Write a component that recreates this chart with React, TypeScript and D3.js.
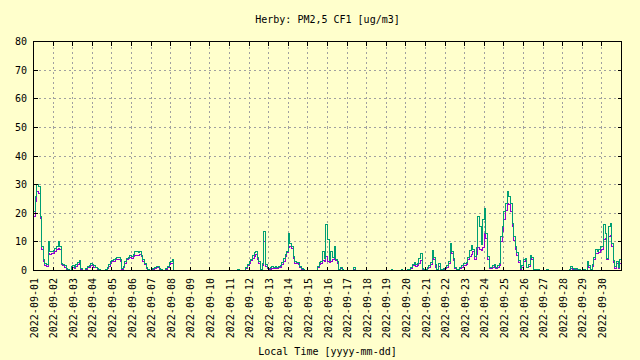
import React from 'react';
import * as d3 from 'd3';

// 2-hourly samples starting 2022-09-01 00:00, one row per day
const startTime = Date.UTC(2022, 8, 1);
const endTime = Date.UTC(2022, 9, 1);
const stepHours = 2;

const seriesA = [
  19, 24, 27.5, 27, 18, 7.5, 3, 1.6, 1.4, 6, 5.5, 5.8,
  6, 6.6, 7.2, 7.8, 7.4, 2, 1.6, 1.2, 0.5, 0.1, 0, 0.8,
  1.2, 0.8, 1.5, 2, 2.6, 0.5, 0, 0, 0.5, 1, 1.2, 1.6,
  1.6, 1.2, 0.9, 0.5, 0.3, 0, 0, 0, 0, 0.8, 1.4, 2.5,
  3, 3.3, 3.7, 4, 4, 3.2, 0.3, 1, 2.6, 3.8, 4.2, 4.6,
  4.3, 4.8, 5.4, 5.2, 5.4, 5.6, 4.8, 3.3, 2, 0.6, 0.3, 0,
  0.3, 0.5, 0.7, 1, 1, 0.5, 0, 0, 0, 0.3, 1, 2.2,
  2.6, 2.5, 0, 0, 0, 0, 0, 0, 0, 0, 0, 0,
  0, 0, 0, 0, 0, 0, 0, 0, 0, 0, 0, 0,
  0, 0, 0, 0, 0, 0, 0, 0, 0, 0, 0, 0,
  0, 0, 0, 0, 0, 0.3, 0, 0, 0, 0, 0.8, 1.7,
  2.5, 3.4, 4.3, 5, 5.6, 4, 2.6, 0.1, 1.8, 10, 1.5, 0.6,
  0.3, 0.4, 0.8, 0.6, 1, 0.6, 1, 1.2, 2.1, 3.3, 5, 6.2,
  8, 8.5, 7.6, 4.1, 2.4, 2.4, 2.1, 1, 0.3, 0.1, 0, 0,
  0, 0, 0, 0, 0, 0, 1, 2, 2.4, 3.5, 3.3, 5,
  3, 2.8, 3.3, 3.8, 4.3, 3.5, 2.5, 0.3, 0.6, 0.3, 0, 0,
  0, 0, 0, 0, 0.5, 0, 0, 0, 0, 0, 0, 0,
  0, 0, 0, 0, 0, 0, 0, 0, 0, 0, 0, 0,
  0, 0, 0, 0, 0, 0, 0, 0, 0, 0.2, 0, 0,
  0, 0, 0.3, 0.8, 1.6, 2, 1.5, 1.8, 2.6, 3.5, 0.3, 0,
  0.2, 0.7, 1.2, 2, 4.5, 3.8, 1.2, 0.2, 1.5, 0.2, 0, 0.5,
  0.6, 1.2, 2.5, 6.5, 6, 3.6, 0.6, 0.2, 0.2, 0.7, 1.2, 1.9,
  1.8, 2, 3.7, 5, 5.7, 6.5, 3.7, 5.5, 8, 7.5, 7, 8,
  13, 11.3, 4, 0.6, 0.8, 1.2, 1.4, 0.8, 1.2, 1.8, 10, 13.5,
  17.7, 21, 23.5, 23, 20.5, 15.5, 10.5, 7.2, 5.4, 2.8, 0.5, 1.2,
  3.1, 3.5, 0.9, 1.5, 4.7, 3.7, 0.3, 0, 0.3, 0.3, 0, 0,
  0, 0, 0, 0, 0, 0, 0, 0, 0, 0, 0, 0,
  0, 0, 0, 0, 0.1, 0.8, 0.5, 0.1, 0.3, 0.1, 0.3, 0,
  0.2, 0, 0, 2.5, 1.2, 0.2, 1.4, 3.7, 6, 5.8, 6.3, 7,
  7.2, 10.7, 11.3, 3.7, 11.9, 12.4, 8.4, 2.8, 0.8, 2.5, 0.8, 2.5,
  2.2,
];

const seriesB = [
  20.5, 26, 30, 29.5, 19, 8.5, 3.7, 2.5, 2, 10, 6.6, 6.6,
  6.9, 7.8, 8.5, 10, 8.4, 2.5, 2.2, 1.6, 0.8, 0.2, 0, 1.4,
  1.6, 1.2, 2, 2.8, 3.5, 0.8, 0, 0, 0.8, 1.4, 1.6, 2.3,
  2, 1.6, 1.2, 0.8, 0.5, 0, 0, 0, 0.2, 1.2, 2, 3.1,
  3.5, 3.9, 4.3, 4.6, 4.5, 3.7, 0.6, 1.4, 3.1, 4.3, 4.7, 5.2,
  4.8, 5.6, 6.5, 6.5, 6.3, 6.8, 5.4, 4, 2.5, 1, 0.5, 0,
  0.5, 0.8, 1, 1.4, 1.4, 0.8, 0.2, 0, 0, 0.6, 1.4, 2.9,
  3.3, 3.7, 0, 0, 0, 0, 0, 0, 0, 0, 0, 0,
  0, 0, 0, 0, 0, 0, 0, 0, 0, 0, 0, 0,
  0, 0, 0, 0, 0, 0, 0, 0, 0, 0, 0, 0,
  0, 0, 0, 0, 0, 0.5, 0, 0, 0, 0, 1.2, 2.2,
  3, 4, 5.2, 6.3, 6.8, 4.5, 3, 0.2, 2.5, 13.7, 2, 1,
  0.6, 0.9, 1.3, 0.9, 1.5, 0.9, 1.5, 1.7, 2.7, 4.1, 5.6, 6.7,
  12.9, 9.6, 8.5, 5, 3.3, 2.9, 2.7, 1.5, 0.6, 0.3, 0.1, 0,
  0, 0, 0, 0, 0, 0, 1.5, 2.7, 3.3, 6.7, 4.1, 16,
  10.8, 3.5, 6.5, 4.5, 8.5, 4, 3, 0.5, 1, 0.5, 0, 0,
  0, 0, 0, 0, 0.9, 0, 0, 0, 0, 0, 0, 0,
  0, 0, 0, 0, 0, 0, 0, 0, 0, 0, 0, 0,
  0, 0, 0, 0.3, 0, 0, 0, 0, 0, 0.5, 0, 0,
  0, 0.2, 0.5, 1.2, 2.1, 2.7, 2, 2.3, 4.3, 5.8, 0.6, 0.2,
  0.4, 1.2, 1.6, 2.8, 7, 4.7, 2, 0.4, 2.5, 0.4, 0.2, 0.8,
  1.2, 1.6, 3.1, 9.5, 6.6, 4.2, 1.2, 0.4, 0.4, 1.2, 1.6, 2.6,
  2.6, 2.7, 4.6, 6.9, 8.6, 7.3, 4.8, 8, 18.8, 15.3, 9, 17.7,
  21.7, 13, 4.9, 1.2, 1.2, 1.6, 2, 1.2, 1.6, 2.3, 12, 15.5,
  20.6, 23.5, 27.5, 26, 23.5, 16.5, 12, 8.4, 6.3, 3.5, 0.8, 1.8,
  4, 4.3, 1.2, 2, 5.1, 4.6, 0.5, 0.2, 0.5, 0.5, 0, 0,
  0, 0, 0.2, 0, 0, 0, 0, 0, 0, 0, 0, 0,
  0, 0, 0, 0, 0.3, 1.4, 0.8, 0.3, 0.6, 0.3, 0.5, 0,
  0.4, 0.2, 0, 3.1, 1.6, 0.4, 2, 4.6, 7.4, 6.6, 7.2, 8.4,
  8.4, 16, 13, 4.3, 15.3, 16.3, 9.5, 3.5, 1.4, 3.1, 1.2, 4,
  3,
];

const yTicks = [0, 10, 20, 30, 40, 50, 60, 70, 80];
const title = 'Herby: PM2,5 CF1 [ug/m3]';
const xTitle = 'Local Time [yyyy-mm-dd]';

const W = 640;
const H = 360;
const left = 33.5;
const right = 621.5;
const top = 41.5;
const bottom = 270.5;
const font = '"DejaVu Sans Mono", "Liberation Mono", monospace';

const App = () => {
  const x = d3.scaleUtc().domain([startTime, endTime]).range([left, right]);
  const y = d3.scaleLinear().domain([0, 80]).range([bottom, top]);

  const toPoints = (vals: number[]) =>
    vals.map((v, i) => [startTime + i * stepHours * 3600 * 1000, v] as [number, number]);

  const line = d3.line<[number, number]>()
    .x(d => x(d[0]))
    .y(d => y(d[1]))
    .curve(d3.curveStepAfter);

  const days = d3.utcDay.range(new Date(startTime), new Date(endTime));
  const fmt = d3.utcFormat('%Y-%m-%d');
  const px = (v: number) => Math.round(v - 0.5) + 0.5;

  return (
    <svg width={W} height={H} style={{ position: 'absolute', left: 0, top: 0 }}
      fontFamily={font} fontSize={10}>
      <rect width={W} height={H} fill="#ffffcc" />
      <text x={(left + right) / 2} y={23} textAnchor="middle">{title}</text>

      {/* grid */}
      <g stroke="#a0a0a0" strokeDasharray="2,3" shapeRendering="crispEdges">
        {days.slice(1).map(d => (
          <line key={+d} x1={px(x(d))} x2={px(x(d))} y1={top} y2={bottom} />
        ))}
        {yTicks.slice(1, -1).map(t => (
          <line key={t} x1={left} x2={right} y1={px(y(t))} y2={px(y(t))} />
        ))}
      </g>

      <defs>
        <clipPath id="plot">
          <rect x={left} y={top} width={right - left} height={bottom - top} />
        </clipPath>
      </defs>
      <g clipPath="url(#plot)" fill="none" strokeWidth={1} shapeRendering="crispEdges">
        <path d={line(toPoints(seriesA)) ?? ''} stroke="#9400d3" />
        <path d={line(toPoints(seriesB)) ?? ''} stroke="#009e73" />
      </g>

      {/* border + mirrored tics */}
      <g stroke="#000" shapeRendering="crispEdges">
        <rect x={left} y={top} width={right - left} height={bottom - top} fill="none" />
        {days.map(d => (
          <g key={+d}>
            <line x1={px(x(d))} x2={px(x(d))} y1={bottom} y2={bottom - 4} />
            <line x1={px(x(d))} x2={px(x(d))} y1={top} y2={top + 4} />
          </g>
        ))}
        {yTicks.map(t => (
          <g key={t}>
            <line x1={left} x2={left + 4} y1={px(y(t))} y2={px(y(t))} />
            <line x1={right} x2={right - 4} y1={px(y(t))} y2={px(y(t))} />
          </g>
        ))}
      </g>

      {yTicks.map(t => (
        <text key={t} x={27} y={y(t)} dy="0.35em" textAnchor="end">{t}</text>
      ))}
      {days.map(d => (
        <text key={+d} transform={`translate(${x(d) + 0.5},278) rotate(-90)`}
          dy="0.35em" textAnchor="end">{fmt(d)}</text>
      ))}
      <text x={(left + right) / 2} y={355} textAnchor="middle">{xTitle}</text>
    </svg>
  );
};

export default App;
